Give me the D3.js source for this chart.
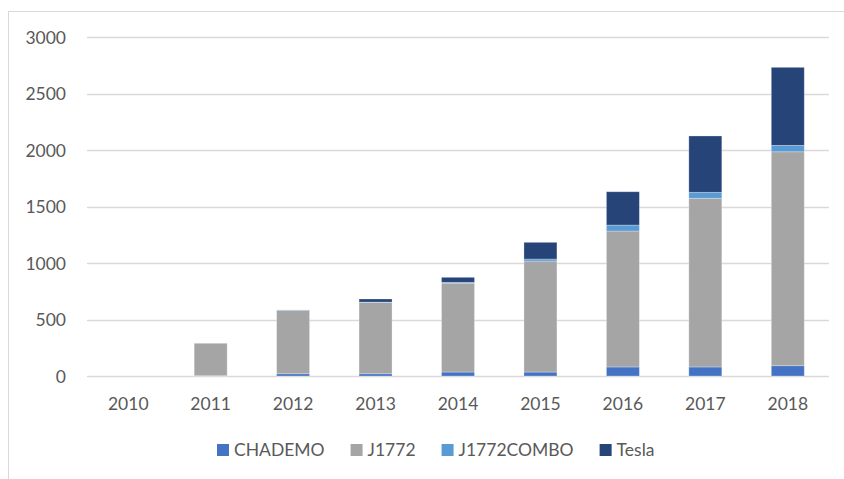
<!DOCTYPE html>
<html><head><meta charset="utf-8">
<script src="https://cdn.jsdelivr.net/npm/d3@7"></script>
<style>body{margin:0;background:#fff}svg{display:block}</style>
</head><body><svg id="c" width="844" height="479"></svg>
<script>
const years = ["2010","2011","2012","2013","2014","2015","2016","2017","2018"];
const seriesNames = ["CHADEMO","J1772","J1772COMBO","Tesla"];
const CHADEMO    = [0, 3, 20, 20, 35, 35, 80, 80, 91];
const J1772      = [0, 287, 560, 632, 787, 983, 1204, 1494, 1895];
const J1772COMBO = [0, 0, 5, 3, 8, 18, 53, 53, 57];
const Tesla      = [0, 0, 0, 27, 44, 148, 295, 499, 691];
const yTicks = [0, 500, 1000, 1500, 2000, 2500, 3000];
const colors = ["#4472C4", "#A5A5A5", "#5B9BD5", "#264478"];

(function () {
const svg = d3.select("#c");
const font = "Lato, 'Open Sans', sans-serif";
svg.append("rect").attr("x", 8.5).attr("y", 11.5).attr("width", 900).attr("height", 600)
  .attr("fill", "none").attr("stroke", "#D9D9D9").attr("stroke-width", 1);

const pLeft = 87, pRight = 829, pTop = 37.3, pBottom = 376;
const x = d3.scaleBand().domain(years).range([pLeft, pRight]).paddingInner(0.6).paddingOuter(0.3);
const y = d3.scaleLinear().domain([0, 3000]).range([pBottom, pTop]);

svg.append("g").selectAll("line").data(yTicks).join("line")
  .attr("x1", pLeft).attr("x2", pRight)
  .attr("y1", d => Math.round(y(d)) + 0.5).attr("y2", d => Math.round(y(d)) + 0.5)
  .attr("stroke", "#D9D9D9").attr("stroke-width", 1.3);

const yAxis = d3.axisLeft(y).tickValues(yTicks).tickFormat(d3.format("d")).tickSize(0).tickPadding(0);
const gy = svg.append("g").attr("transform", "translate(66,0)").call(yAxis);
gy.select(".domain").remove();
gy.selectAll("text").attr("font-family", font).attr("font-size", 17.5).attr("fill", "#595959").attr("dy", "0.35em");

const xAxis = d3.axisBottom(x).tickSize(0).tickPadding(0);
const gx = svg.append("g").attr("transform", `translate(0,${pBottom})`).call(xAxis);
gx.select(".domain").remove();
gx.selectAll("text").attr("font-family", font).attr("font-size", 17.5).attr("fill", "#595959").attr("y", 34).attr("dy", 0);

const table = years.map((yr, i) => ({year: yr, CHADEMO: CHADEMO[i], J1772: J1772[i], J1772COMBO: J1772COMBO[i], Tesla: Tesla[i]}));
const stack = d3.stack().keys(seriesNames)(table);
svg.append("g").selectAll("g").data(stack).join("g")
  .attr("fill", (d, i) => colors[i])
  .selectAll("rect").data(d => d.filter(p => p[1] - p[0] > 0)).join("rect")
  .attr("x", d => x(d.data.year))
  .attr("width", x.bandwidth())
  .attr("y", d => y(d[1]))
  .attr("height", d => y(d[0]) - y(d[1]))
  .attr("stroke", "#ffffff").attr("stroke-opacity", 0.35).attr("stroke-width", 0.8);

const lg = svg.append("g");
let lx = 217;
seriesNames.forEach((name, i) => {
  lg.append("rect").attr("x", lx).attr("y", 444).attr("width", 12).attr("height", 12).attr("fill", colors[i]);
  const t = lg.append("text").attr("x", lx + 17).attr("y", 456).attr("font-family", font)
    .attr("font-size", 17.5).attr("fill", "#595959").text(name);
  const w = t.node().getComputedTextLength();
  lx = lx + 17 + w + 26;
});
})();
</script></body></html>
